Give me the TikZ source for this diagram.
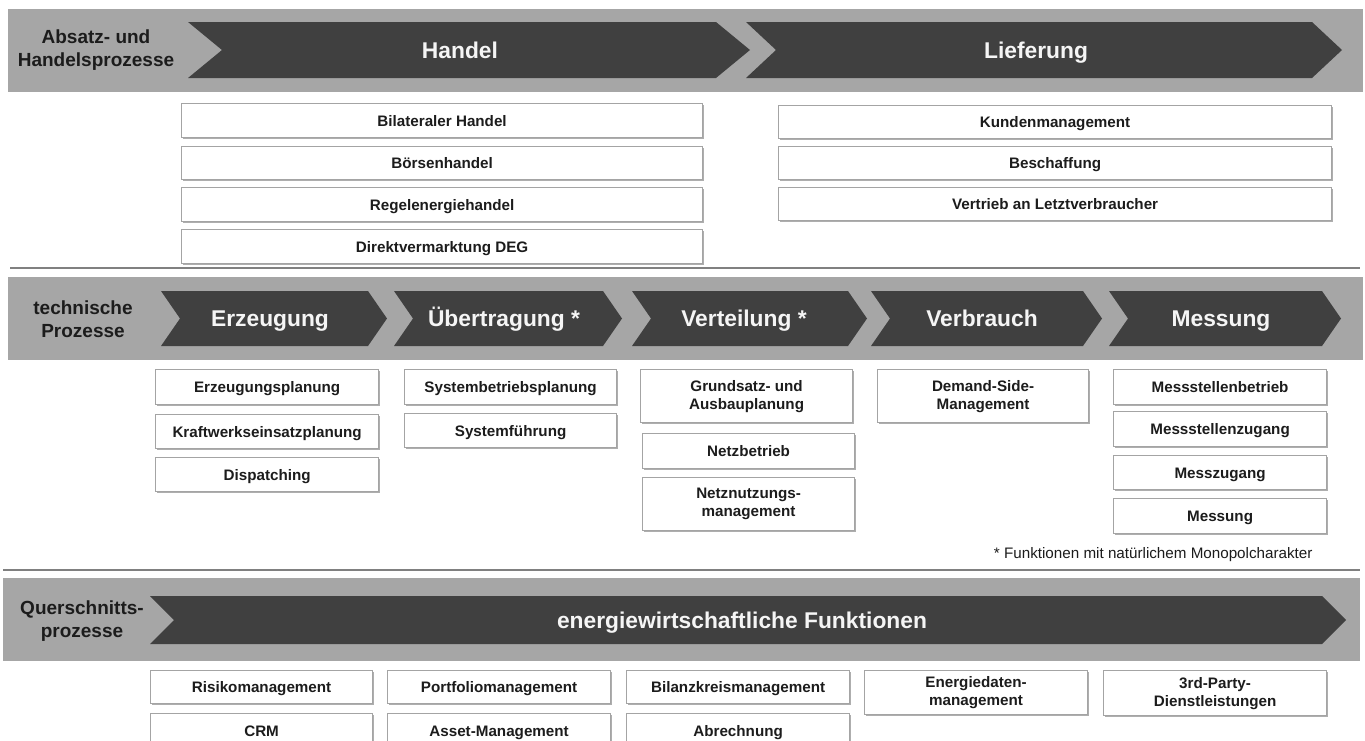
\documentclass[tikz,border=0pt]{standalone}
\usepackage{fontspec}
\setmainfont{Liberation Sans}
\usetikzlibrary{shadows}
\definecolor{bandgray}{HTML}{A6A6A6}
\definecolor{chevdark}{HTML}{404040}
\definecolor{boxline}{HTML}{A4A4A4}
\definecolor{sepgray}{HTML}{808080}
\definecolor{txtdark}{HTML}{1C1C1C}

% chevron: left x, top y, right x (top edge end), bottom y, depth of point/notch
\newcommand\chev[5]{%
  \fill[chevdark] (#1,#2) -- (#3,#2) -- ({#3+#5},{(#2+#4)/2}) -- (#3,#4)
    -- (#1,#4) -- ({#1+#5},{(#2+#4)/2}) -- cycle;}
% single-line function box: name, x1, y1, x2, y2, text
\newcommand\fbx[6]{%
  \node[fbox, oneline, anchor=north west, minimum width={#4pt-#2pt},
        minimum height={#5pt-#3pt}] (#1) at (#2,#3) {#6};}
% two-line function box
\newcommand\fbxx[6]{%
  \node[fbox, anchor=north west, minimum width={#4pt-#2pt},
        minimum height={#5pt-#3pt}] (#1) at (#2,#3) {#6};}

\begin{document}
\begin{tikzpicture}[x=1pt,y=-1pt,
  fbox/.style={draw=boxline, line width=1.2pt, fill=white, inner sep=1pt,
    align=center, text=txtdark,
    font=\fontsize{15.2}{18}\selectfont\bfseries,
    drop shadow={shadow xshift=0.9pt, shadow yshift=-0.9pt, fill=black!45, opacity=0.7}},
  oneline/.style={text height=10.9pt, text depth=0pt},
  phase/.style={text=white!96!black, font=\fontsize{22.8}{26}\selectfont\bfseries,
    text height=16.3pt, text depth=0pt},
  grouplabel/.style={align=center, text=txtdark,
    font=\fontsize{19}{22.5}\selectfont\bfseries},
  sepline/.style={draw=sepgray, line width=2pt},
  note/.style={text=txtdark, font=\fontsize{15.2}{17}\selectfont,
    text height=10.9pt, text depth=0pt}]

\useasboundingbox (0,0) rectangle (1365,740);
\clip (0,0) rectangle (1365,740);
\fill[white] (0,0) rectangle (1365,740);

% ---------- Absatz- und Handelsprozesse ----------
\fill[bandgray] (8,9) rectangle (1363,92);
\chev{188}{22}{716}{78}{34}
\chev{746}{22}{1312}{78}{30}
\node[grouplabel] (absatz) at (96,50) {Absatz- und\\Handelsprozesse};
\node[phase] (handel) at (460,50) {Handel};
\node[phase] (lieferung) at (1036,50) {Lieferung};

\fbx{bilateral}{181}{103}{702}{137}{Bilateraler Handel}
\fbx{boerse}{181}{146}{702}{179}{Börsenhandel}
\fbx{regel}{181}{187}{702}{221}{Regelenergiehandel}
\fbx{direkt}{181}{229}{702}{263}{Direktvermarktung DEG}

\fbx{kunden}{778}{105}{1331}{138}{Kundenmanagement}
\fbx{beschaffung}{778}{146}{1331}{179}{Beschaffung}
\fbx{vertrieb}{778}{187}{1331}{220}{Vertrieb an Letztverbraucher}

\coordinate (sepAl) at (10,268);
\coordinate (sepAr) at (1360,268);
\draw[sepline] (sepAl) -- (sepAr);

% ---------- technische Prozesse ----------
\fill[bandgray] (8,277) rectangle (1363,360);
\chev{161}{291}{368}{346}{19}
\chev{394}{291}{603}{346}{19}
\chev{632}{291}{848}{346}{19}
\chev{871}{291}{1083}{346}{19}
\chev{1109}{291}{1322}{346}{19}
\node[grouplabel] (technisch) at (83,319) {technische\\Prozesse};
\node[phase] (erzeugung) at (270,318) {Erzeugung};
\node[phase] (uebertragung) at (504,318) {Übertragung *};
\node[phase] (verteilung) at (744,318) {Verteilung *};
\node[phase] (verbrauch) at (982,318) {Verbrauch};
\node[phase] (messung) at (1221,318) {Messung};

\fbx{erzplan}{155}{369}{378}{404}{Erzeugungsplanung}
\fbx{kwplan}{155}{414}{378}{448}{Kraftwerkseinsatzplanung}
\fbx{dispatch}{155}{457}{378}{491}{Dispatching}

\fbx{sysplan}{404}{369}{616}{404}{Systembetriebsplanung}
\fbx{sysfuehr}{404}{413}{616}{447}{Systemführung}

\fbxx{grundsatz}{640}{369}{852}{422}{Grundsatz- und\\Ausbauplanung}
\fbx{netzbetrieb}{642}{433}{854}{468}{Netzbetrieb}
\fbxx{netznutz}{642}{477}{854}{530}{Netznutzungs-\\management}

\fbxx{dsm}{877}{369}{1088}{422}{Demand-Side-\\Management}

\fbx{msbetrieb}{1113}{369}{1326}{404}{Messstellenbetrieb}
\fbx{mszugang}{1113}{411}{1326}{446}{Messstellenzugang}
\fbx{messzugang}{1113}{455}{1326}{489}{Messzugang}
\fbx{messg}{1113}{498}{1326}{533}{Messung}

\node[note, anchor=east] (fussnote) at (1316,553)
  {* Funktionen mit natürlichem Monopolcharakter};

\coordinate (sepBl) at (3,570);
\coordinate (sepBr) at (1360,570);
\draw[sepline] (sepBl) -- (sepBr);

% ---------- Querschnittsprozesse ----------
\fill[bandgray] (3,578) rectangle (1360,661);
\chev{150}{596}{1322}{644}{24}
\node[grouplabel] (quer) at (82,621) {Querschnitts-\\prozesse};
\node[phase] (ewf) at (742,620) {energiewirtschaftliche Funktionen};

\fbx{risiko}{150}{670}{372}{703}{Risikomanagement}
\fbx{portfolio}{387}{670}{610}{703}{Portfoliomanagement}
\fbx{bilanz}{626}{670}{849}{703}{Bilanzkreismanagement}
\fbxx{edm}{864}{670}{1087}{714}{Energiedaten-\\management}
\fbxx{thirdparty}{1103}{670}{1326}{715}{3rd-Party-\\Dienstleistungen}

\fbx{crm}{150}{713}{372}{747}{CRM}
\fbx{asset}{387}{713}{610}{747}{Asset-Management}
\fbx{abrechnung}{626}{713}{849}{747}{Abrechnung}
\end{tikzpicture}
\end{document}
